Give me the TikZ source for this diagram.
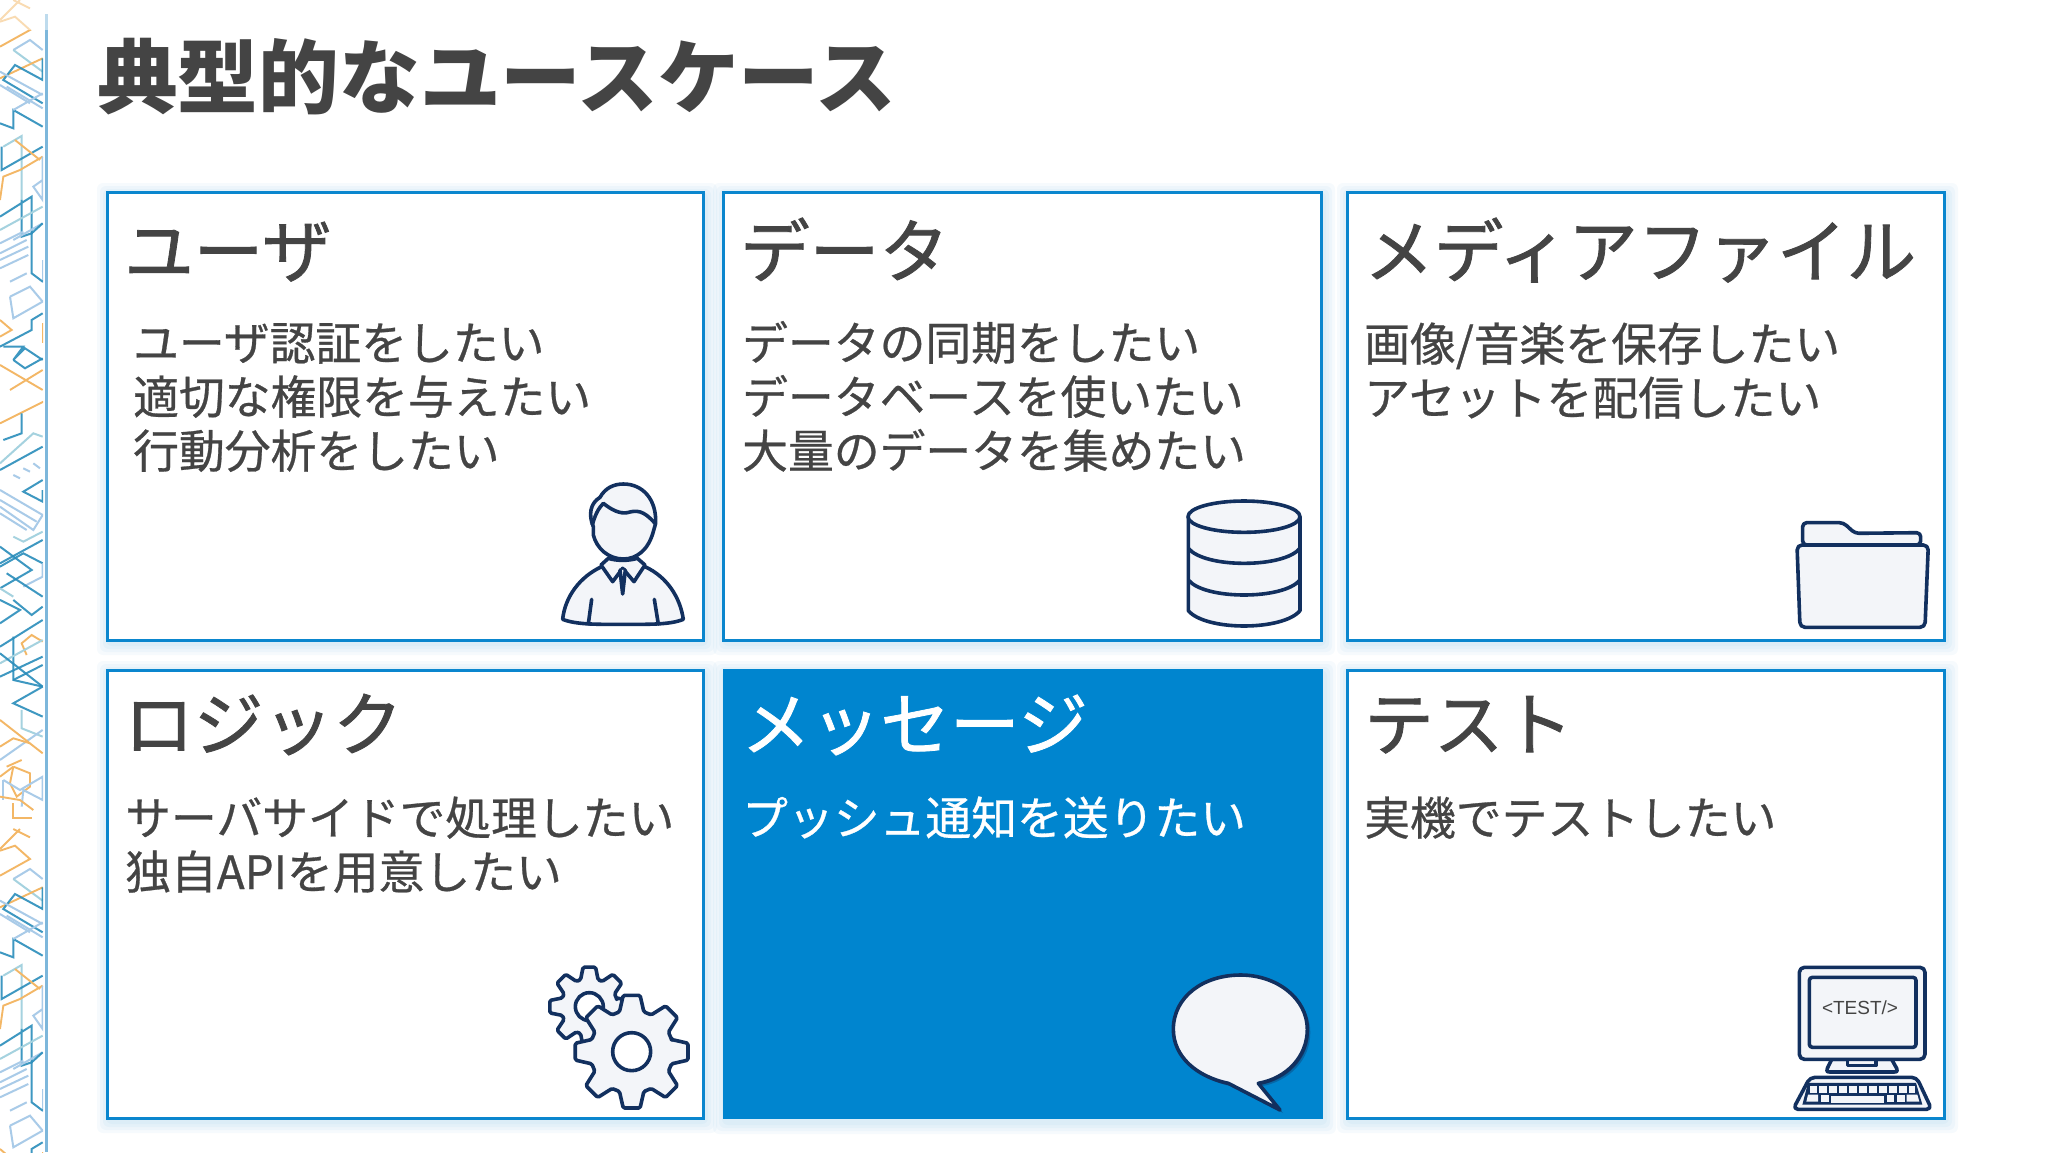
\documentclass[tikz,border=0pt]{standalone}
\usepackage{fontspec}
\newfontfamily\jp{Noto Sans CJK JP}
\newfontfamily\jpHead[FakeBold=1.2]{Noto Sans CJK JP}
\newfontfamily\jpBody[FakeBold=0.6]{Noto Sans CJK JP}
\newfontfamily\lat{Liberation Sans}
\definecolor{inkgray}{HTML}{444444}
\definecolor{cardblue}{HTML}{0A86CE}
\definecolor{fillblue}{HTML}{0085CF}
\definecolor{navy}{HTML}{12305F}
\definecolor{iconfill}{HTML}{F3F5F9}
\definecolor{stTeal}{HTML}{2A8DBB}
\definecolor{stLight}{HTML}{A9CBE8}
\definecolor{stOrange}{HTML}{F3B766}
\definecolor{stAqua}{HTML}{A5D2DF}
\definecolor{stEdge}{HTML}{7DB7DB}
\tikzset{
  zoomed/.style={x=0.3333pt,y=-0.3333pt},
  cardbase/.style={anchor=north west,minimum width=#1,minimum height=448pt,inner sep=0pt,outer sep=0pt},
  glowbox/.style={fill=cardblue,opacity=.035},
  card/.style={cardbase=#1,draw=cardblue,line width=3pt,fill=white},
  cardsolid/.style={cardbase=#1,fill=fillblue},
  titletext/.style={anchor=base west,inner sep=0pt,text=inkgray,font=\jp\bfseries\fontsize{80.7}{90}\selectfont},
  headtext/.style={anchor=base west,inner sep=0pt,text=inkgray,font=\jpHead\fontsize{69.6}{80}\selectfont},
  bodytext/.style={anchor=base west,inner sep=0pt,text=inkgray,font=\jpBody\fontsize{45.8}{54}\selectfont},
  icon/.style={draw=navy,fill=iconfill,line width=3.6pt,line join=round,line cap=round},
  iconline/.style={draw=navy,line width=3.6pt,line join=round,line cap=round},
  sT/.style={stTeal,line width=2pt,opacity=.9},
  sL/.style={stLight,line width=2pt},
  sO/.style={stOrange,line width=1.9pt},
  sA/.style={stAqua,line width=2pt},
}
\newcommand{\glowAround}[4]{%
  \foreach \g in {12,9,6,3}
    \fill[glowbox,rounded corners=6pt] (#1-\g+2,#2-\g+3) rectangle (#3+\g+2,#4+\g+3);
}
\newcommand{\stripPattern}{%
  \draw[sO] (0,65)--(45,50)--(90,90)--(0,140);
  \draw[sO] (40,0)--(90,25);
  \draw[sO] (0,60)--(60,0);
  \draw[sL] (40,150)--(90,120)--(128,150);
  \draw[sA] (40,150)--(128,215);
  \draw[sO] (0,235)--(128,175);
  \draw[sT] (128,175)--(128,240)--(45,195)--(10,240)--(128,310);
  \draw[sL] (0,215)--(128,285);
  \draw[sL] (20,260)--(128,325);
  \draw[sL] (0,255)--(90,310);
  \draw[sT] (0,370)--(40,385)--(40,330)--(128,380);
  \draw[sL] (40,330)--(128,280);
  \draw[sA] (10,440)--(65,408)--(65,600);
  \draw[sT] (5,440)--(5,510)--(128,440);
  \draw[sO] (0,600)--(10,530)--(60,510)--(128,470);
  \draw[sO] (45,420)--(120,480);
  \draw[sL] (128,470)--(128,600)--(100,560)--(128,540);
  \draw[sT] (0,650)--(95,590)--(95,700)--(65,710)--(65,600);
  \draw[sA] (0,690)--(128,620);
  \draw[sL] (128,670)--(40,720);
  \draw[sL] (0,730)--(70,695);
  \draw[sL] (0,760)--(80,720);
  \draw[sL] (0,780)--(85,740);
  \draw[sL] (0,805)--(85,765);
  \draw[sL] (30,845)--(80,820);
  \draw[sL] (128,780)--(128,850);
  \draw[sT] (95,700)--(95,820)--(128,845);
  \draw[sT] (128,670)--(95,700);
  \draw[sL] (30,890)--(90,860)--(128,905)--(40,955)--(30,890);
  \draw[sT] (128,940)--(95,960)--(95,990)--(0,1040);
  \draw[sO] (0,960)--(35,990)--(0,1010);
  \draw[sO] (128,970)--(128,1030);
  \draw[sT] (10,1040)--(70,1040)--(40,1080)--(75,1045)--(128,1080);
  \draw[sT] (40,1080)--(75,1105)--(128,1075);
  \draw[sO] (0,1095)--(128,1170);
  \draw[sO] (128,1110)--(30,1170);
  \begin{scope}[yshift=-400pt]
    \draw[sO] (0,70)--(130,5);
    \draw[sT] (10,120)--(65,100)--(65,40);
    \draw[sA] (0,190)--(100,100)--(128,110);
    \draw[sT] (0,210)--(128,140);
    \draw[sT] (128,240)--(70,275)--(128,305)--(128,270);
    \draw[sL] (40,225)--(60,235);
    \draw[sL] (70,205)--(90,215);
    \draw[sL] (100,190)--(120,205);
    \draw[sL] (0,270)--(128,345)--(100,390)--(0,320);
    \draw[sL] (0,340)--(80,390);
    \draw[sL] (0,300)--(110,365);
    \draw[sA] (128,395)--(70,425)--(40,410);
    \draw[sT] (128,420)--(0,490);
    \draw[sT] (0,440)--(95,510)--(0,565);
    \draw[sT] (128,490)--(70,460)--(0,500);
    \draw[sL] (128,490)--(128,530)--(70,560);
    \draw[sT] (128,590)--(20,520);
    \draw[sA] (0,565)--(40,590);
    \draw[sT] (0,600)--(60,630)--(0,670);
    \draw[sT] (128,620)--(95,645)--(40,600);
    \draw[sT] (128,660)--(0,740);
    \draw[sT] (40,710)--(40,840)--(128,860);
    \draw[sO] (128,725)--(95,705)--(65,730)--(80,765);
    \draw[sT] (128,795)--(40,840);
    \draw[sA] (128,720)--(0,790);
    \draw[sT] (0,760)--(128,860);
    \draw[sT] (128,770)--(0,830);
    \draw[sT] (128,860)--(40,910)--(128,950);
    \draw[sA] (65,930)--(65,985)--(128,1010);
    \draw[sL] (128,990)--(0,1080);
    \draw[sO] (0,960)--(128,1060);
    \draw[sO] (0,1040)--(40,1015)--(90,1030);
    \draw[sO] (40,1100)--(90,1120)--(90,1160)--(50,1190)--(30,1150)--(40,1100);
    \draw[sO] (0,1130)--(40,1100);
  \end{scope}
  \begin{scope}[yshift=-760pt]
    \draw[sL] (10,60)--(60,90)--(128,50)--(128,120)--(70,90)--(65,140);
    \draw[sL] (10,60)--(10,120);
    \draw[sO] (0,110)--(60,120)--(100,150);
    \draw[sO] (40,130)--(40,175)--(95,175);
    \draw[sO] (65,0)--(20,20);
  \end{scope}
}
\begin{document}
\begin{tikzpicture}[x=1pt,y=-1pt]
\useasboundingbox (0,0) rectangle (2048,1152);
\fill[white] (0,0) rectangle (2048,1152);

% decorative strip
\begin{scope}
  \clip (0,0) rectangle (43,1152);
  \begin{scope}[zoomed]\stripPattern\end{scope}
  \begin{scope}[shift={(0,829)},zoomed]\stripPattern\end{scope}
  \begin{scope}[shift={(0,-829)},zoomed]\stripPattern\end{scope}
\end{scope}
\fill[stEdge] (45,14) rectangle (48,1152);
\fill[white,opacity=.5] (0,0) rectangle (48,30);

% title
\node[titletext] (title) at (97,107) {典型的なユースケース};

% card glow
\glowAround{107}{192}{703}{640}
\glowAround{723}{192}{1321}{640}
\glowAround{1347}{192}{1944}{640}
\glowAround{107}{670}{703}{1118}
\glowAround{723}{670}{1322}{1119}
\glowAround{1347}{670}{1944}{1118}

% cards
\node[card=596pt]      (cardA) at (107,192) {};
\node[card=598pt]      (cardB) at (723,192) {};
\node[card=597pt]      (cardC) at (1347,192) {};
\node[card=596pt]      (cardD) at (107,670) {};
\node[cardsolid=600pt,minimum height=450pt] (cardE) at (722.5,669) {};
\node[card=597pt]      (cardF) at (1347,670) {};

% card A
\node[headtext] (hA)  at (124,277) {ユーザ};
\node[bodytext] (aA1) at (133,360) {ユーザ認証をしたい};
\node[bodytext] (aA2) at (133,414) {適切な権限を与えたい};
\node[bodytext] (aA3) at (133,468) {行動分析をしたい};
% card B
\node[headtext] (hB)  at (740,277) {データ};
\node[bodytext] (aB1) at (742,360) {データの同期をしたい};
\node[bodytext] (aB2) at (742,414) {データベースを使いたい};
\node[bodytext] (aB3) at (742,468) {大量のデータを集めたい};
% card C
\node[headtext] (hC)  at (1364,277) {メディアファイル};
\node[bodytext] (aC1) at (1364,361) {画像/音楽を保存したい};
\node[bodytext] (aC2) at (1364,415) {アセットを配信したい};
% card D
\node[headtext] (hD)  at (124,750) {ロジック};
\node[bodytext] (aD1) at (125,835) {サーバサイドで処理したい};
\node[bodytext] (aD2) at (125,889) {独自APIを用意したい};
% card E
\node[headtext,text=white] (hE)  at (741,750) {メッセージ};
\node[bodytext,text=white] (aE1) at (742,835) {プッシュ通知を送りたい};
% card F
\node[headtext] (hF)  at (1364,750) {テスト};
\node[bodytext] (aF1) at (1364,835) {実機でテストしたい};

% user icon
\begin{scope}[shift={(540,460)},zoomed]
  \path[icon] (185,320) .. controls (120,350) and (75,410) .. (68,478)
    .. controls (110,495) and (180,493) .. (250,493)
    .. controls (320,493) and (390,495) .. (430,478)
    .. controls (420,410) and (380,350) .. (315,320) -- cycle;
  \path[icon] (160,200) .. controls (145,165) and (150,130) .. (180,112)
    .. controls (195,85) and (220,72) .. (250,72)
    .. controls (310,72) and (350,120) .. (347,190) -- (340,215)
    .. controls (325,270) and (290,297) .. (250,297)
    .. controls (205,297) and (170,265) .. (160,225) -- cycle;
  \draw[iconline] (157,195) .. controls (165,165) and (175,145) .. (190,130)
    .. controls (215,150) and (240,162) .. (262,158)
    .. controls (290,150) and (310,150) .. (345,190);
  \path[icon] (205,295) -- (183,315) -- (218,365) -- (248,325) -- (282,365) -- (315,315) -- (292,295)
    .. controls (265,303) and (230,303) .. (205,295) -- cycle;
  \path[icon] (240,330) -- (248,402) -- (256,330);
  \draw[iconline] (155,418) -- (145,492);
  \draw[iconline] (343,418) -- (355,492);
\end{scope}

% database icon
\begin{scope}[shift={(1180,490)},zoomed]
  \path[icon] (25,80) -- (25,362) .. controls (50,392) and (120,408) .. (192,408)
    .. controls (265,408) and (335,392) .. (360,362) -- (360,80) -- cycle;
  \path[icon] (192,80) ellipse [x radius=168,y radius=47];
  \draw[iconline] (25,175) .. controls (50,205) and (120,220) .. (192,220)
    .. controls (265,220) and (335,205) .. (360,175);
  \draw[iconline] (25,270) .. controls (50,300) and (120,315) .. (192,315)
    .. controls (265,315) and (335,300) .. (360,270);
\end{scope}

% folder icon
\begin{scope}[shift={(1800,510)},zoomed]
  \path[icon,rounded corners=4pt] (8,105) -- (8,38) -- (130,38) -- (165,70) -- (362,68) -- (362,105) -- cycle;
  \path[icon,rounded corners=5pt] (-9,105) -- (385,105) -- (375,352) -- (0,352) -- cycle;
\end{scope}

% gears icon
\begin{scope}[shift={(540,960)},zoomed]
  \begin{scope}[shift={(148,140)},zoomed]
    \path[icon,rounded corners=1.5pt] (-17:85) \foreach \a in {0,45,...,315} {
       -- (\a-18:85) -- (\a-9:120) -- (\a+9:120) -- (\a+18:85)} -- cycle;
    \path[iconline,fill=white] (0,0) circle (42);
  \end{scope}
  \begin{scope}[shift={(275,275)},zoomed]
    \path[icon,rounded corners=1.5pt] (-18:125) \foreach \a in {0,45,...,315} {
       -- (\a-17:125) -- (\a-8.5:171) -- (\a+8.5:171) -- (\a+17:125)} -- cycle;
    \path[iconline,fill=white] (0,0) circle (57);
  \end{scope}
\end{scope}

% speech bubble icon
\begin{scope}[shift={(1170,970)},zoomed]
  \fill[navy,opacity=.35] (184,349) .. controls (89,329) and (19,269) .. (19,187)
    .. controls (19,89) and (109,24) .. (221,24)
    .. controls (329,24) and (421,94) .. (421,187)
    .. controls (421,269) and (359,334) .. (274,349) -- (339,429) -- cycle;
  \fill[navy,opacity=.6] (180,345) .. controls (85,325) and (15,265) .. (15,183)
    .. controls (15,85) and (105,20) .. (217,20)
    .. controls (325,20) and (417,90) .. (417,183)
    .. controls (417,265) and (355,330) .. (270,345) -- (335,425) -- cycle;
  \path[icon] (175,340) .. controls (80,320) and (10,260) .. (10,178)
    .. controls (10,80) and (100,15) .. (212,15)
    .. controls (320,15) and (412,85) .. (412,178)
    .. controls (412,260) and (350,325) .. (265,340) -- (330,420) -- cycle;
\end{scope}

% test computer icon
\begin{scope}[shift={(1800,960)},zoomed]
  \path[icon] (95,298) -- (82,325) .. controls (78,332) and (80,336) .. (90,336)
     -- (282,336) .. controls (292,336) and (294,332) .. (290,325) -- (275,298) -- cycle;
  \path[icon] (142,298) -- (142,316) -- (228,316) -- (228,298);
  \path[icon,rounded corners=5pt] (-2,22) rectangle (375,298);
  \path[icon,rounded corners=3pt] (28,52) rectangle (348,262);
  \node[anchor=center,inner sep=0pt,text=inkgray,font=\lat\fontsize{19}{22}\selectfont] (testlabel) at (180,143) {<TEST/>};
  \path[icon,rounded corners=5pt] (30,352) -- (350,352) -- (395,448) -- (-21,448) -- cycle;
  \begin{scope}[line width=2.5pt,draw=navy]
    \draw[fill=navy] (27,372) -- (345,372) -- (362,430) -- (12,430) -- cycle;
    \foreach \xa/\xb in {30/52,58/82,88/112,118/142,148/172,178/202,208/232,238/262,268/290,296/322,326/346}
      \fill[iconfill] (\xa,377) rectangle (\xb,398);
    \fill[iconfill] (24,404) -- (54,404) -- (54,425) -- (19,425) -- cycle;
    \fill[iconfill] (62,404) rectangle (86,425);
    \fill[iconfill] (94,408) rectangle (252,430);
    \fill[iconfill] (260,404) rectangle (282,425);
    \fill[iconfill] (290,404) rectangle (314,425);
    \fill[iconfill] (320,404) -- (352,404) -- (358,425) -- (320,425) -- cycle;
  \end{scope}
\end{scope}
\end{tikzpicture}
\end{document}
